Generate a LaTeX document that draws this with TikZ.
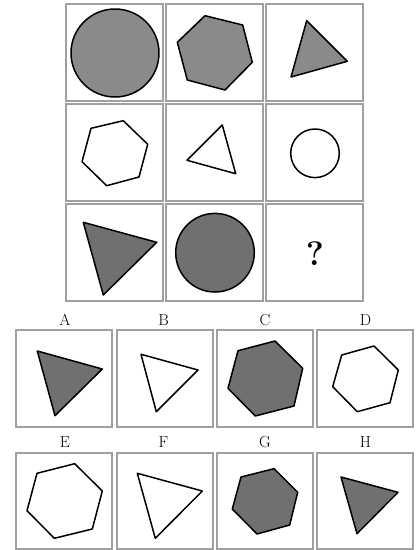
\documentclass[tikz,border=0pt]{standalone}
\begin{document}
\begin{tikzpicture}[x=1pt,y=-1pt]
\definecolor{frame}{RGB}{160,160,160}
\definecolor{lightfill}{RGB}{138,138,138}
\definecolor{darkfill}{RGB}{112,112,112}
\tikzset{
  cell/.style={draw=frame,line width=1.8pt,fill=white},
  shp/.style={draw=black,line width=1.5pt,line join=round},
  lite/.style={shp,fill=lightfill},
  dark/.style={shp,fill=darkfill},
  hollow/.style={shp,fill=white},
  lbl/.style={inner sep=0pt,font=\fontsize{16}{16}\selectfont},
}
\useasboundingbox (0,0) rectangle (419,550);
\fill[white] (0,0) rectangle (419,550);
% grid cells
\foreach \x in {66,166,266}{
  \foreach \y in {4,104,204}{
    \draw[cell] (\x,\y) rectangle ++(97,97);
  }
}
% row 1
\draw[lite] (115,53) circle (44);
\draw[lite] (205,15.7) -- (242.7,25) -- (252.3,62.3) -- (225,90) -- (187.3,80) -- (177.3,42.3) -- cycle;
\draw[lite] (306.7,20.7) -- (347.3,61.3) -- (291,77) -- cycle;
% row 2
\draw[hollow] (123.3,120.7) -- (147.7,144.3) -- (139,177) -- (106.7,185.7) -- (82,161.7) -- (91,128.3) -- cycle;
\draw[hollow] (222.3,125) -- (235.7,173.7) -- (187,160.3) -- cycle;
\draw[hollow] (315,153.3) circle (24.3);
% row 3
\draw[dark] (83.3,222.3) -- (156.7,242.3) -- (103.3,295) -- cycle;
\draw[dark] (215,252.7) circle (39.3);
\node[inner sep=0pt,font=\fontsize{34}{34}\selectfont\bfseries] (q) at (315,254) {?};
% option boxes
\foreach \x in {16,117,217,317}{
  \draw[cell] (\x,330) rectangle ++(96,97);
  \draw[cell] (\x,453) rectangle ++(96,96);
}
\node[lbl] (la) at (65,320) {A};
\node[lbl] (lb) at (163.5,320) {B};
\node[lbl] (lc) at (265,320) {C};
\node[lbl] (ld) at (365.5,320) {D};
\node[lbl] (le) at (65,442) {E};
\node[lbl] (lf) at (163.5,442) {F};
\node[lbl] (lg) at (265,442) {G};
\node[lbl] (lh) at (365.5,442) {H};
% A
\draw[dark] (37.3,351) -- (102.3,369) -- (55,415.7) -- cycle;
% B
\draw[hollow] (141,354.3) -- (198,370) -- (156.3,411.7) -- cycle;
% C
\draw[dark] (275,341) -- (302.7,368.3) -- (294,406) -- (255.3,416) -- (228,388.3) -- (238,350.7) -- cycle;
% D
\draw[hollow] (374,346) -- (398.3,370) -- (390,402.7) -- (357.3,411.7) -- (332.7,386.7) -- (341.7,355) -- cycle;
% E
\draw[hollow] (74.7,463.7) -- (102.3,491) -- (92.3,529) -- (54.3,538.3) -- (27,510.7) -- (37,473.3) -- cycle;
% F
\draw[hollow] (137.3,473.3) -- (202.3,491) -- (155.3,538.3) -- cycle;
% G
\draw[dark] (274,468.7) -- (297.7,492.3) -- (289.7,525) -- (257,534) -- (232.3,509) -- (241,477) -- cycle;
% H
\draw[dark] (341,477) -- (398,492.3) -- (357,533.7) -- cycle;
\end{tikzpicture}
\end{document}
